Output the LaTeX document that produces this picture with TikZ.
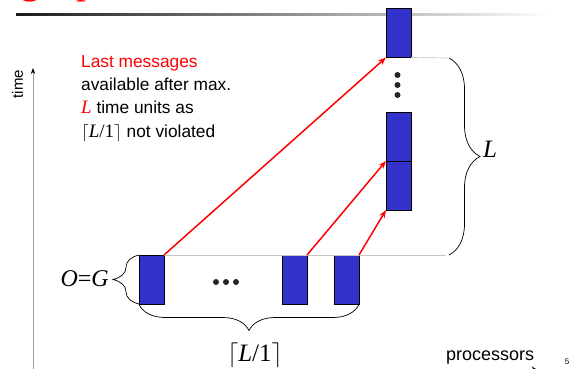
\documentclass[tikz,border=0pt]{standalone}
\usepackage{fontspec}
\newfontfamily\tsans{Liberation Sans}
\newfontfamily\tserif{Liberation Serif}
\usetikzlibrary{arrows.meta,decorations.pathreplacing}
\definecolor{blockblue}{RGB}{51,51,204}
\definecolor{slidered}{RGB}{255,0,0}
\begin{document}
\begin{tikzpicture}[x=1pt,y=-1pt,
  blk/.style={draw=black,line width=0.6pt,fill=blockblue,minimum width=25pt,
    minimum height=49pt,inner sep=0pt,outer sep=0pt,anchor=north west},
  msg/.style={draw=slidered,line width=1.5pt,-{Stealth[length=8pt,width=6pt]}},
  guide/.style={draw=gray!45,line width=0.7pt},
  brc/.style={draw=black,line width=0.7pt,decorate,decoration={brace,amplitude=#1}},
  blob/.style={circle,fill=black!85,inner sep=0pt,minimum size=6pt},
  txt/.style={font=\tsans\fontsize{17.3}{23}\selectfont,inner sep=0pt,anchor=base west},
  mathlab/.style={font=\tserif\fontsize{25}{30}\selectfont,inner sep=0pt}]
\useasboundingbox (0,0) rectangle (571,368);
\clip (0,0) rectangle (571,368);

% slide title (only its descenders reach this area) and header rule
\node[font=\tserif\fontsize{40}{48}\selectfont,text=slidered,inner sep=0pt,anchor=base west] (tg) at (20,-7) {g};
\node[font=\tserif\fontsize{40}{48}\selectfont,text=slidered,inner sep=0pt,anchor=base west] (tp) at (76,-7) {p};
\shade[left color=black!90,right color=white] (16,13.2) rectangle (548,15.8);

% axes
\coordinate (tbot) at (33,372);
\coordinate (ttop) at (33,68);
\draw[gray!75,line width=1pt,-{Stealth[length=6pt,width=4.5pt,color=black]}] (tbot) -- (ttop);
\node[font=\tsans\fontsize{15}{17}\selectfont,rotate=90,inner sep=0pt] (tlab) at (17.5,84) {time};
\coordinate (pleft) at (33,371);
\coordinate (pright) at (539,371);
\draw[gray!75,line width=1pt,-{Stealth[length=7pt,width=9pt,color=black]}] (pleft) -- (pright);
\node[txt,font=\tsans\fontsize{18}{23}\selectfont] (plab) at (446,360) {processors};
\node[font=\tsans\fontsize{8}{9}\selectfont,inner sep=0pt,anchor=base] (pgno) at (567,364) {5};

% explanatory text
\node[txt,text=slidered] (t1) at (81,67) {Last messages};
\node[txt] (t2) at (81,90) {available after max.};
\node[txt] (t3) at (81,113) {{\color{slidered}\tserif\itshape\fontsize{19}{23}\selectfont L} time units as};
\node[txt] (t4) at (81,137) {$\Bigl\lceil${\tserif\itshape\fontsize{19}{23}\selectfont L}{\tserif\fontsize{19}{23}\selectfont /1}$\Bigr\rceil$ not violated};

% sending processors
\node[blk] (b1) at (139,255) {};
\node[blk] (b2) at (282,255) {};
\node[blk] (b3) at (334,255) {};
\node[blob] (hd1) at (216,282) {};
\node[blob] (hd2) at (226,282) {};
\node[blob] (hd3) at (236,282) {};

% receiving processor
\node[blk] (r1) at (386,8.5) {};
\node[blk] (r2) at (386,112) {};
\node[blk] (r3) at (386,161) {};
\node[blob] (vd1) at (397.5,75) {};
\node[blob] (vd2) at (397.5,85) {};
\node[blob] (vd3) at (397.5,95) {};

% guide lines
\coordinate (g1) at (448,58);
\coordinate (g2) at (446,255);
\draw[guide] (r1.south east) -- (g1);
\draw[guide] (b1.north east) -- (g2);

% messages
\draw[msg] (b1.north east) -- (r1.south west);
\draw[msg] (b2.north east) -- (r2.south west);
\draw[msg] (b3.north east) -- (r3.south west);

% braces and labels
\coordinate (rb1) at (449,58);
\coordinate (rb2) at (449,255);
\draw[brc=31] (rb1) -- (rb2);
\node[mathlab,anchor=base west] (Llab) at (483,157) {\itshape L};

\coordinate (lb1) at (139,304);
\coordinate (lb2) at (139,255);
\draw[brc=26] (lb1) -- (lb2);
\node[mathlab,anchor=east,font=\tserif\fontsize{24}{28}\selectfont] (oglab) at (109,279) {\itshape O\upshape =\itshape G};

\coordinate (bb1) at (359,304.5);
\coordinate (bb2) at (139,304.5);
\draw[brc=26] (bb1) -- (bb2);
\node[mathlab,anchor=base] (cllab) at (255,361) {$\Bigl\lceil${\itshape L}/1$\Bigr\rceil$};
\end{tikzpicture}
\end{document}
